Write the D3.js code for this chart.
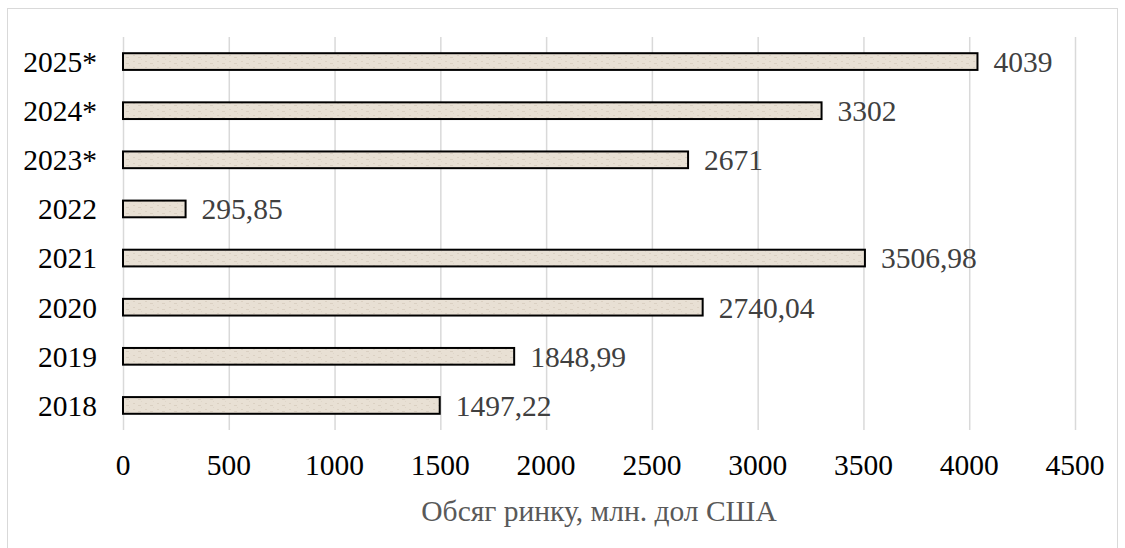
<!DOCTYPE html>
<html>
<head>
<meta charset="utf-8">
<script src="https://cdn.jsdelivr.net/npm/d3@7"></script>
<style>
  html, body { margin: 0; padding: 0; background: #fff; }
  svg { display: block; }
</style>
</head>
<body>
<svg id="chart" width="1125" height="548"></svg>
<script>
// Market volume by year (* — forecast)
const years = ["2025*", "2024*", "2023*", "2022", "2021", "2020", "2019", "2018"];
const values = [4039, 3302, 2671, 295.85, 3506.98, 2740.04, 1848.99, 1497.22];
const valueLabels = ["4039", "3302", "2671", "295,85", "3506,98", "2740,04", "1848,99", "1497,22"];
const xTicks = [0, 500, 1000, 1500, 2000, 2500, 3000, 3500, 4000, 4500];
const axisTitle = "Обсяг ринку, млн. дол США";

const svg = d3.select("#chart");
const W = 1125, H = 548;
const margin = { left: 123, right: 50, top: 37, bottom: 118 };
const font = "'Liberation Serif', 'Times New Roman', serif";
const fs = 29.5;

// outer chart frame
svg.append("rect")
  .attr("x", 7.5).attr("y", 8.5)
  .attr("width", 1110).attr("height", 560)
  .attr("fill", "#fff").attr("stroke", "#d9d9d9").attr("stroke-width", 1);

// textured fill for the bars
const defs = svg.append("defs");
const pat = defs.append("pattern")
  .attr("id", "tex").attr("patternUnits", "userSpaceOnUse")
  .attr("width", 12).attr("height", 6);
pat.append("rect").attr("width", 12).attr("height", 6).attr("fill", "#e8e0d4");
pat.append("rect").attr("x", 1).attr("y", 1).attr("width", 2).attr("height", 1).attr("fill", "#dbd1c3");
pat.append("rect").attr("x", 6).attr("y", 3).attr("width", 3).attr("height", 1).attr("fill", "#dad0c2");
pat.append("rect").attr("x", 9).attr("y", 5).attr("width", 1).attr("height", 1).attr("fill", "#dfd6c9");

const x = d3.scaleLinear().domain([0, 4500]).range([margin.left, W - margin.right]);
const y = d3.scaleBand().domain(years).range([margin.top, H - margin.bottom]).paddingInner(0.66).paddingOuter(0.33);

// vertical gridlines
svg.append("g")
  .selectAll("line")
  .data(xTicks)
  .join("line")
  .attr("x1", d => x(d) + 0.5).attr("x2", d => x(d) + 0.5)
  .attr("y1", margin.top).attr("y2", H - margin.bottom)
  .attr("stroke", "#d9d9d9").attr("stroke-width", 1.5);

// x tick labels
svg.append("g")
  .selectAll("text")
  .data(xTicks)
  .join("text")
  .attr("x", d => x(d))
  .attr("y", 475)
  .attr("text-anchor", "middle")
  .attr("font-family", font)
  .attr("font-size", fs)
  .attr("fill", "#000")
  .text(d => d);

// category labels
svg.append("g")
  .selectAll("text")
  .data(years)
  .join("text")
  .attr("x", 97)
  .attr("y", d => y(d) + y.bandwidth() / 2)
  .attr("dy", "0.35em")
  .attr("text-anchor", "end")
  .attr("font-family", font)
  .attr("font-size", fs)
  .attr("fill", "#000")
  .text(d => d);

// bars
svg.append("g")
  .selectAll("rect")
  .data(values)
  .join("rect")
  .attr("x", x(0))
  .attr("y", (d, i) => y(years[i]))
  .attr("width", d => x(d) - x(0))
  .attr("height", y.bandwidth())
  .attr("fill", "url(#tex)")
  .attr("stroke", "#000")
  .attr("stroke-width", 2);

// value labels
svg.append("g")
  .selectAll("text")
  .data(values)
  .join("text")
  .attr("x", d => x(d) + 16)
  .attr("y", (d, i) => y(years[i]) + y.bandwidth() / 2)
  .attr("dy", "0.35em")
  .attr("font-family", font)
  .attr("font-size", fs)
  .attr("fill", "#404040")
  .text((d, i) => valueLabels[i]);

// axis title
svg.append("text")
  .attr("x", (x(0) + x(4500)) / 2)
  .attr("y", 521)
  .attr("text-anchor", "middle")
  .attr("font-family", font)
  .attr("font-size", fs)
  .attr("fill", "#595959")
  .text(axisTitle);
</script>
</body>
</html>
